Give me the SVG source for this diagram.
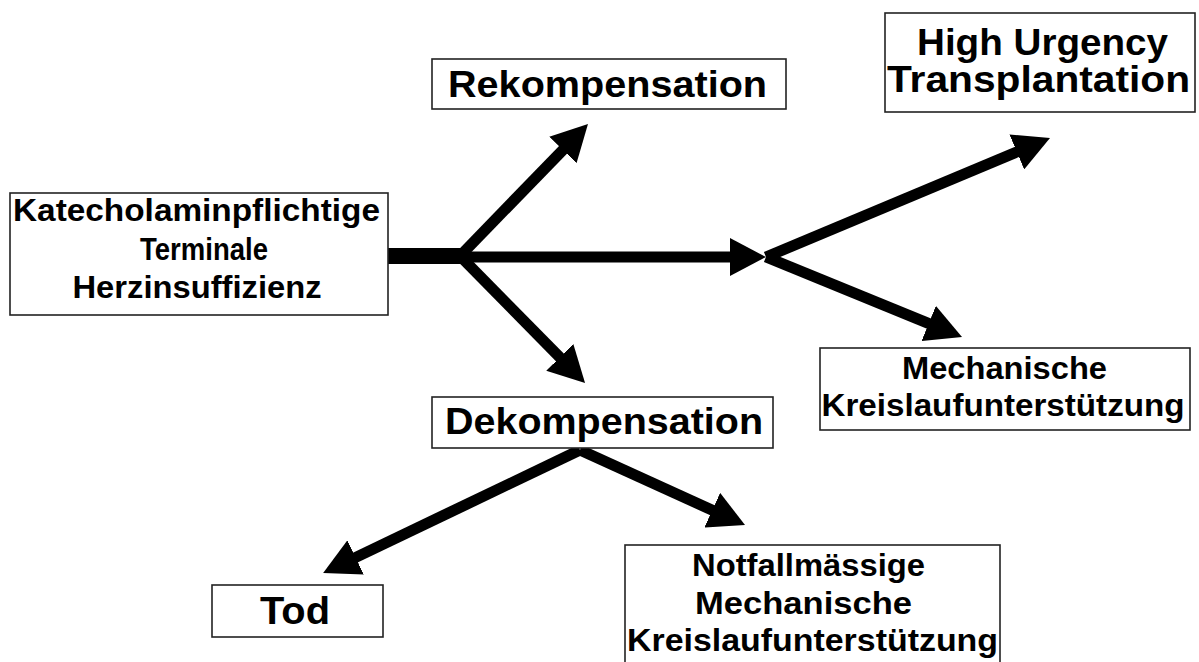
<svg xmlns="http://www.w3.org/2000/svg" width="1199" height="662" viewBox="0 0 1199 662">
<style>
.box{fill:#fff;stroke:#222;stroke-width:1.6}
.t{font-family:"Liberation Sans",Arial,sans-serif;font-weight:bold;fill:#000;text-anchor:middle}
.s28{font-size:31px}
.s34{font-size:36px}
.s38{font-size:38px}
.ln{stroke:#000;stroke-width:11;fill:none;marker-end:url(#ah)}
</style>
<defs>
<marker id="ah" viewBox="0 0 36 38" refX="5" refY="19" markerWidth="36" markerHeight="38" markerUnits="userSpaceOnUse" orient="auto">
<path d="M0,0 L36,19 L0,38 z" fill="#000"/>
</marker>
</defs>
<rect width="1199" height="662" fill="#fff"/>
<g id="connectors">
<line x1="388" y1="256" x2="462" y2="256" stroke="#000" stroke-width="16"/>
<line class="ln" x1="460" y1="256" x2="566.4" y2="146.3"/>
<line class="ln" x1="458" y1="257" x2="735" y2="257"/>
<line class="ln" x1="460" y1="256" x2="563.3" y2="360.9"/>
<line class="ln" x1="766" y1="257" x2="1021.4" y2="150"/>
<line class="ln" x1="766" y1="257" x2="933.3" y2="325.3"/>
<line class="ln" x1="580" y1="450" x2="351.1" y2="559.6"/>
<line class="ln" x1="580" y1="450" x2="716.8" y2="512.2"/>
</g>
<g id="node-katecholamin">
<rect class="box" x="10" y="193" width="378" height="122"/>
<text class="t s28" x="196.5" y="221" textLength="367" lengthAdjust="spacingAndGlyphs">Katecholaminpflichtige</text>
<text class="t s28" x="204" y="260" textLength="128" lengthAdjust="spacingAndGlyphs">Terminale</text>
<text class="t s28" x="197" y="298" textLength="249" lengthAdjust="spacingAndGlyphs">Herzinsuffizienz</text>
</g>
<g id="node-rekompensation">
<rect class="box" x="432" y="59" width="354" height="50"/>
<text class="t s34" x="607.5" y="97" textLength="319" lengthAdjust="spacingAndGlyphs">Rekompensation</text>
</g>
<g id="node-high-urgency">
<rect class="box" x="885" y="13" width="310" height="99"/>
<text class="t s34" x="1042.5" y="55" textLength="251" lengthAdjust="spacingAndGlyphs">High Urgency</text>
<text class="t s34" x="1038.5" y="92" textLength="303" lengthAdjust="spacingAndGlyphs">Transplantation</text>
</g>
<g id="node-mechanische">
<rect class="box" x="820" y="348" width="370" height="82"/>
<text class="t s28" x="1004.5" y="379" textLength="205" lengthAdjust="spacingAndGlyphs">Mechanische</text>
<text class="t s28" x="1003" y="416" textLength="363" lengthAdjust="spacingAndGlyphs">Kreislaufunterstützung</text>
</g>
<g id="node-dekompensation">
<rect class="box" x="432" y="397" width="341" height="51"/>
<text class="t s34" x="604" y="434" textLength="318" lengthAdjust="spacingAndGlyphs">Dekompensation</text>
</g>
<g id="node-tod">
<rect class="box" x="212" y="585" width="171" height="52"/>
<text class="t s38" x="295" y="624" textLength="70" lengthAdjust="spacingAndGlyphs">Tod</text>
</g>
<g id="node-notfall">
<rect class="box" x="625" y="545" width="375" height="125"/>
<text class="t s28" x="808.5" y="576" textLength="233" lengthAdjust="spacingAndGlyphs">Notfallmässige</text>
<text class="t s28" x="803.5" y="614" textLength="217" lengthAdjust="spacingAndGlyphs">Mechanische</text>
<text class="t s28" x="812.5" y="651" textLength="371" lengthAdjust="spacingAndGlyphs">Kreislaufunterstützung</text>
</g>
</svg>
